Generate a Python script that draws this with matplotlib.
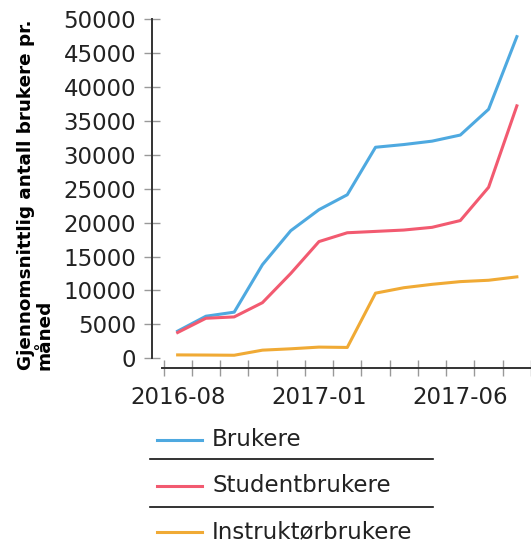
import matplotlib
matplotlib.use("Agg")
import matplotlib.pyplot as plt
from matplotlib.lines import Line2D

# months on the x axis (one point per month)
months = ["2016-08", "2016-09", "2016-10", "2016-11", "2016-12", "2017-01", "2017-02",
          "2017-03", "2017-04", "2017-05", "2017-06", "2017-07", "2017-08"]
tick_labels = ["2016-08", "2017-01", "2017-06"]

brukere = [4000, 6200, 6800, 13800, 18800, 21900, 24100, 31100, 31500, 32000, 32900, 36700, 47400]
studentbrukere = [3800, 5900, 6100, 8200, 12500, 17200, 18500, 18700, 18900, 19300, 20300, 25200, 37200]
instruktorbrukere = [500, 480, 450, 1200, 1400, 1650, 1600, 9600, 10400, 10900, 11300, 11500, 12000]

series_names = ["Brukere", "Studentbrukere", "Instruktørbrukere"]
series_values = [brukere, studentbrukere, instruktorbrukere]
colors = ["#4ea9e0", "#f25a70", "#f0aa35"]

W, H = 531, 542
fig = plt.figure(figsize=(W / 100, H / 100), dpi=100)

def fx(px):
    return px / W

def fy(py):
    return 1 - py / H

ax = fig.add_axes([fx(152), fy(358.3), fx(531) - fx(152), fy(19) - fy(358.3)])

xs = list(range(len(months)))
for vals, c in zip(series_values, colors):
    ax.plot(xs, vals, color=c, lw=2.2, solid_joinstyle="round", clip_on=False)

ax.set_xlim(-0.907, 12.47)
ax.set_ylim(0, 50000)

for s in ["top", "right"]:
    ax.spines[s].set_visible(False)
ax.spines["bottom"].set_position(("outward", 7.2))
ax.spines["bottom"].set_bounds(-0.55, 12.6)
ax.spines["left"].set_bounds(0, 50000)
for s in ["bottom", "left"]:
    ax.spines[s].set_color("#333333")
    ax.spines[s].set_linewidth(1.4)

font = "DejaVu Sans"
ax.set_yticks(range(0, 50001, 5000))
ax.set_yticklabels([str(v) for v in range(0, 50001, 5000)], fontsize=16.5, family=font, color="#222222")
ax.tick_params(axis="y", direction="inout", length=11, width=1, color="#999999", pad=6)

ax.set_xticks([months.index(t) for t in tick_labels])
ax.set_xticklabels(tick_labels, fontsize=16.5, family=font, color="#222222")
ax.tick_params(axis="x", which="major", length=0, pad=13)
ax.set_xticks([i - 0.5 for i in range(len(months) + 1)], minor=True)
ax.tick_params(axis="x", which="minor", direction="inout", length=11, width=1, color="#999999")

fig.text(fx(35), fy(370), "Gjennomsnittlig antall brukere pr.\nmåned", rotation=90,
         rotation_mode="anchor", ha="left", va="center", multialignment="left",
         fontsize=13.2, fontweight="bold", family=font, linespacing=1.05)

# legend below the chart
legend_y = [440, 486, 532]
for name, c, ly in zip(series_names, colors, legend_y):
    fig.add_artist(Line2D([fx(157), fx(202)], [fy(ly), fy(ly)], color=c, lw=2.2,
                          transform=fig.transFigure))
    fig.text(fx(212), fy(ly), name, fontsize=16.5, family=font, color="#222222",
             ha="left", va="center")
for sy in [459.3, 506.7]:
    fig.add_artist(Line2D([fx(150), fx(433)], [fy(sy), fy(sy)], color="#111111", lw=1.2,
                          transform=fig.transFigure))

fig.savefig("out.png", dpi=100)
